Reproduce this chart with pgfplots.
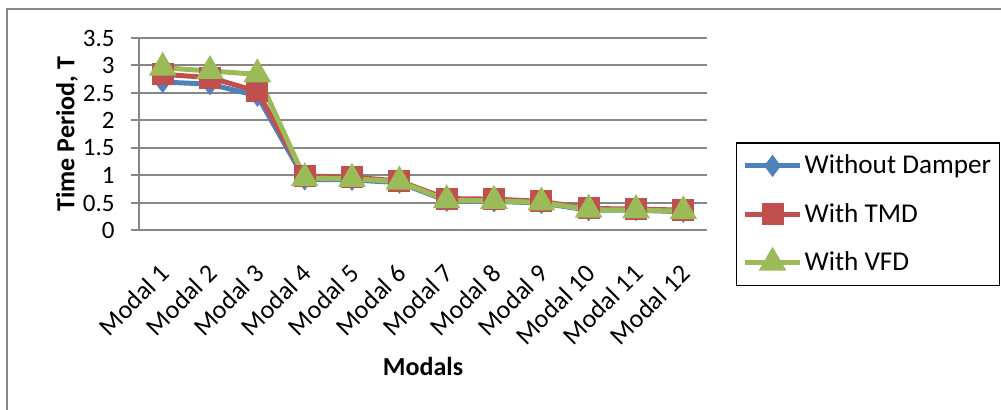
\documentclass[border=0pt]{standalone}
\usepackage{pgfplots}
\pgfplotsset{compat=1.18}
\usepackage{fontspec}
\setmainfont{Carlito}
\definecolor{cblue}{HTML}{4F81BD}
\definecolor{cred}{HTML}{C0504D}
\definecolor{cgreen}{HTML}{9BBB59}
\definecolor{cgrid}{HTML}{868686}
\begin{document}
\begin{tikzpicture}
\useasboundingbox (0pt,0pt) rectangle (500.5pt,-205pt);
\draw[cgrid, line width=1pt] (3.5pt,-206pt) -- (3.5pt,-4.75pt) -- (501pt,-4.75pt);
\begin{axis}[
  at={(69.5pt,-115.25pt)}, anchor=origin,
  scale only axis, width=284pt, height=96.25pt,
  xmin=0.5, xmax=12.5, ymin=0, ymax=3.5,
  axis lines*=left,
  axis line style={cgrid, line width=1pt},
  xtick={1,...,12},
  xticklabels={Modal 1,Modal 2,Modal 3,Modal 4,Modal 5,Modal 6,Modal 7,Modal 8,Modal 9,Modal 10,Modal 11,Modal 12},
  ytick={0,0.5,1,1.5,2,2.5,3,3.5},
  yticklabels={0,0.5,1,1.5,2,2.5,3,3.5},
  ymajorgrids,
  grid style={cgrid, line width=1pt},
  tick align=outside,
  major tick length=4pt,
  xtick style={draw=none},
  ytick style={cgrid, line width=1pt},
  tick label style={font=\fontsize{12.5}{14}\selectfont},
  xticklabel style={font=\fontsize{13}{15}\selectfont},
  /pgf/number format/assume math mode=true,
  xticklabel style={xshift=-2.2pt, yshift=-11.8pt, rotate=45, anchor=north east, inner sep=0pt},
  yticklabel style={anchor=east, inner sep=0pt, xshift=-8pt},
  xlabel={\bfseries Modals},
  ylabel={\bfseries Time Period, T},
  label style={font=\fontsize{13}{15}\selectfont},
  xlabel style={at={(axis description cs:0.5,-0.704)}, anchor=center},
  ylabel style={at={(axis description cs:-0.1268,0.5)}, anchor=center},
  legend style={at={(rel axis cs:1.051,0.458)}, anchor=north west,
    draw=black, line width=0.6pt, font=\fontsize{13.6}{16}\selectfont,
    inner xsep=3pt, inner ysep=4.5pt, row sep=10.25pt,
    nodes={inner xsep=1pt, inner ysep=1.5pt}},
  legend cell align=left,
  legend image code/.code={\draw[mark repeat=2,mark phase=2] plot coordinates {(0pt,0pt) (13.75pt,0pt) (27.5pt,0pt)};},
  every axis plot/.append style={line width=2.5pt},
  clip=false,
]
\addplot[cblue, mark=diamond*, mark size=3.5pt, mark options={solid}] coordinates {
(1,2.70) (2,2.66) (3,2.45) (4,0.93) (5,0.92) (6,0.87) (7,0.54) (8,0.53) (9,0.50) (10,0.37) (11,0.37) (12,0.34)};
\addplot[cred, mark=square*, mark size=4.25pt] coordinates {
(1,2.84) (2,2.78) (3,2.53) (4,0.99) (5,0.97) (6,0.90) (7,0.58) (8,0.57) (9,0.53) (10,0.40) (11,0.39) (12,0.37)};
\addplot[cgreen, mark=triangle*, mark size=5.5pt] coordinates {
(1,2.96) (2,2.90) (3,2.84) (4,0.95) (5,0.94) (6,0.89) (7,0.55) (8,0.54) (9,0.51) (10,0.38) (11,0.37) (12,0.35)};
\legend{Without Damper, With TMD, With VFD}
\end{axis}
\end{tikzpicture}
\end{document}
